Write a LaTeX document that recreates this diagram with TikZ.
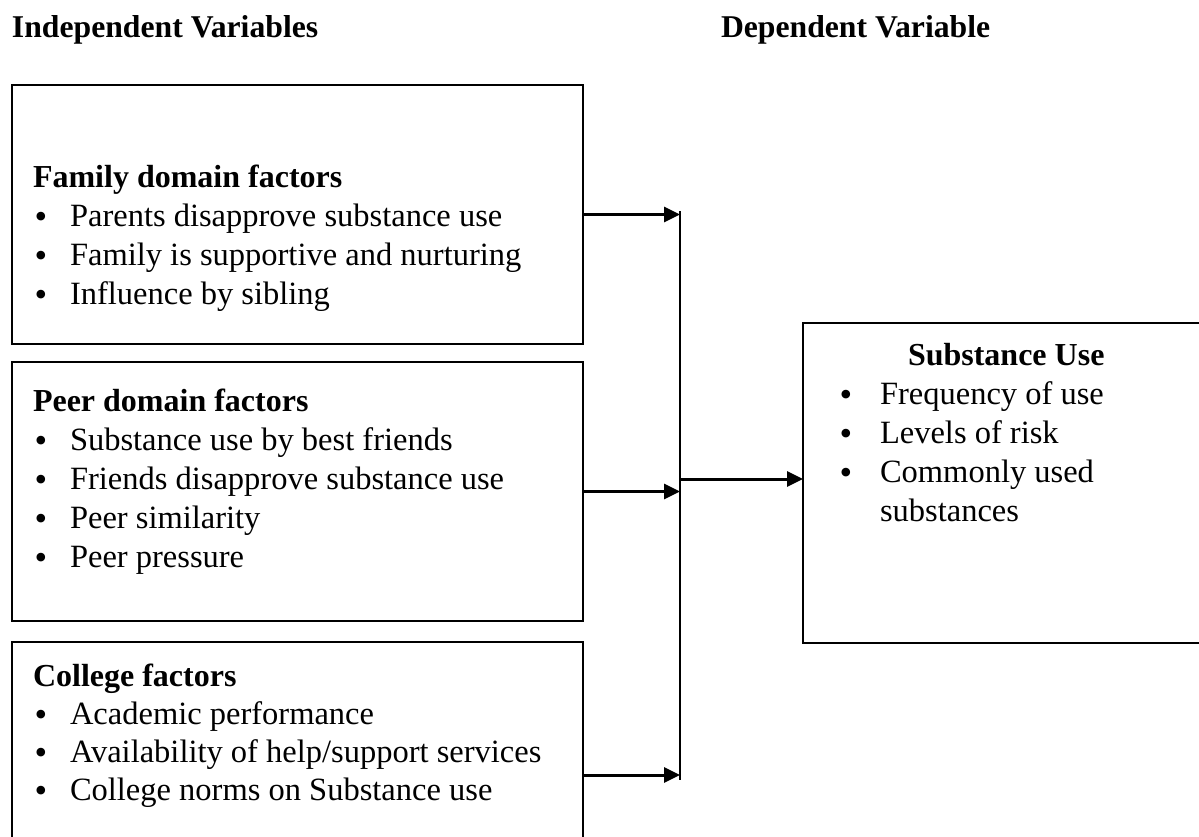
\documentclass[tikz,border=0pt]{standalone}
\usepackage{fontspec}
\setmainfont{Liberation Serif}
\usetikzlibrary{arrows.meta,calc}
\begin{document}
\begin{tikzpicture}[x=1pt,y=-1pt,
  every node/.style={inner sep=0pt,outer sep=0pt},
  boxnode/.style={draw=black,line width=2pt,anchor=north west},
  hdr/.style={anchor=base west,font=\fontsize{31.7}{38}\selectfont\bfseries},
  ttl/.style={anchor=base west,font=\fontsize{32}{38}\selectfont\bfseries},
  itm/.style={anchor=base west,font=\fontsize{32.5}{39}\selectfont},
  bul/.style={anchor=base,font=\fontsize{36}{39}\selectfont,yshift=-2pt},
  arr/.style={line width=3pt,-{Triangle[length=16pt,width=15pt]}},
  busline/.style={line width=2pt}]
\useasboundingbox (0,0) rectangle (1199,836);
\clip (0,0) rectangle (1199,836);

% headers
\node[hdr] (hind) at (12,37) {Independent Variables};
\node[hdr] (hdep) at (721,37) {Dependent Variable};

% boxes
\node[boxnode,minimum width=571pt,minimum height=259pt] (fam) at (12,85) {};
\node[boxnode,minimum width=571pt,minimum height=259pt] (peer) at (12,362) {};
\node[boxnode,minimum width=571pt,minimum height=266pt] (col) at (12,642) {};
\node[boxnode,minimum width=404pt,minimum height=320pt] (sub) at (803,323) {};

% family box
\node[ttl] (f0) at (33,187) {Family domain factors};
\node[bul] (fb1) at (41,226) {•}; \node[itm] (f1) at (70,226) {Parents disapprove substance use};
\node[bul] (fb2) at (41,265) {•}; \node[itm] (f2) at (70,265) {Family is supportive and nurturing};
\node[bul] (fb3) at (41,304) {•}; \node[itm] (f3) at (70,304) {Influence by sibling};

% peer box
\node[ttl] (p0) at (33,411) {Peer domain factors};
\node[bul] (pb1) at (41,450) {•}; \node[itm] (p1) at (70,450) {Substance use by best friends};
\node[bul] (pb2) at (41,489) {•}; \node[itm] (p2) at (70,489) {Friends disapprove substance use};
\node[bul] (pb3) at (41,528) {•}; \node[itm] (p3) at (70,528) {Peer similarity};
\node[bul] (pb4) at (41,567) {•}; \node[itm] (p4) at (70,567) {Peer pressure};

% college box
\node[ttl] (c0) at (33,686) {College factors};
\node[bul] (cb1) at (41,724) {•}; \node[itm] (c1) at (70,724) {Academic performance};
\node[bul] (cb2) at (41,762) {•}; \node[itm] (c2) at (70,762) {Availability of help/support services};
\node[bul] (cb3) at (41,800) {•}; \node[itm] (c3) at (70,800) {College norms on Substance use};

% substance use box
\node[ttl] (s0) at (908,365) {Substance Use};
\node[bul] (sb1) at (846,404) {•}; \node[itm] (s1) at (880,404) {Frequency of use};
\node[bul] (sb2) at (846,443) {•}; \node[itm] (s2) at (880,443) {Levels of risk};
\node[bul] (sb3) at (846,482) {•}; \node[itm] (s3) at (880,482) {Commonly used};
\node[itm] (s4) at (880,521) {substances};

% connectors
\coordinate (bt) at (680,211);
\coordinate (bb) at (680,780);
\coordinate (jn) at (680,479);
\draw[busline] (bt) -- (bb);
\draw[arr] (fam.east) -- (fam.east -| bt);
\draw[arr] (peer.east) -- (peer.east -| bt);
\draw[arr] (col.east) -- (col.east -| bt);
\draw[arr] (jn) -- (jn -| sub.west);
\end{tikzpicture}
\end{document}
